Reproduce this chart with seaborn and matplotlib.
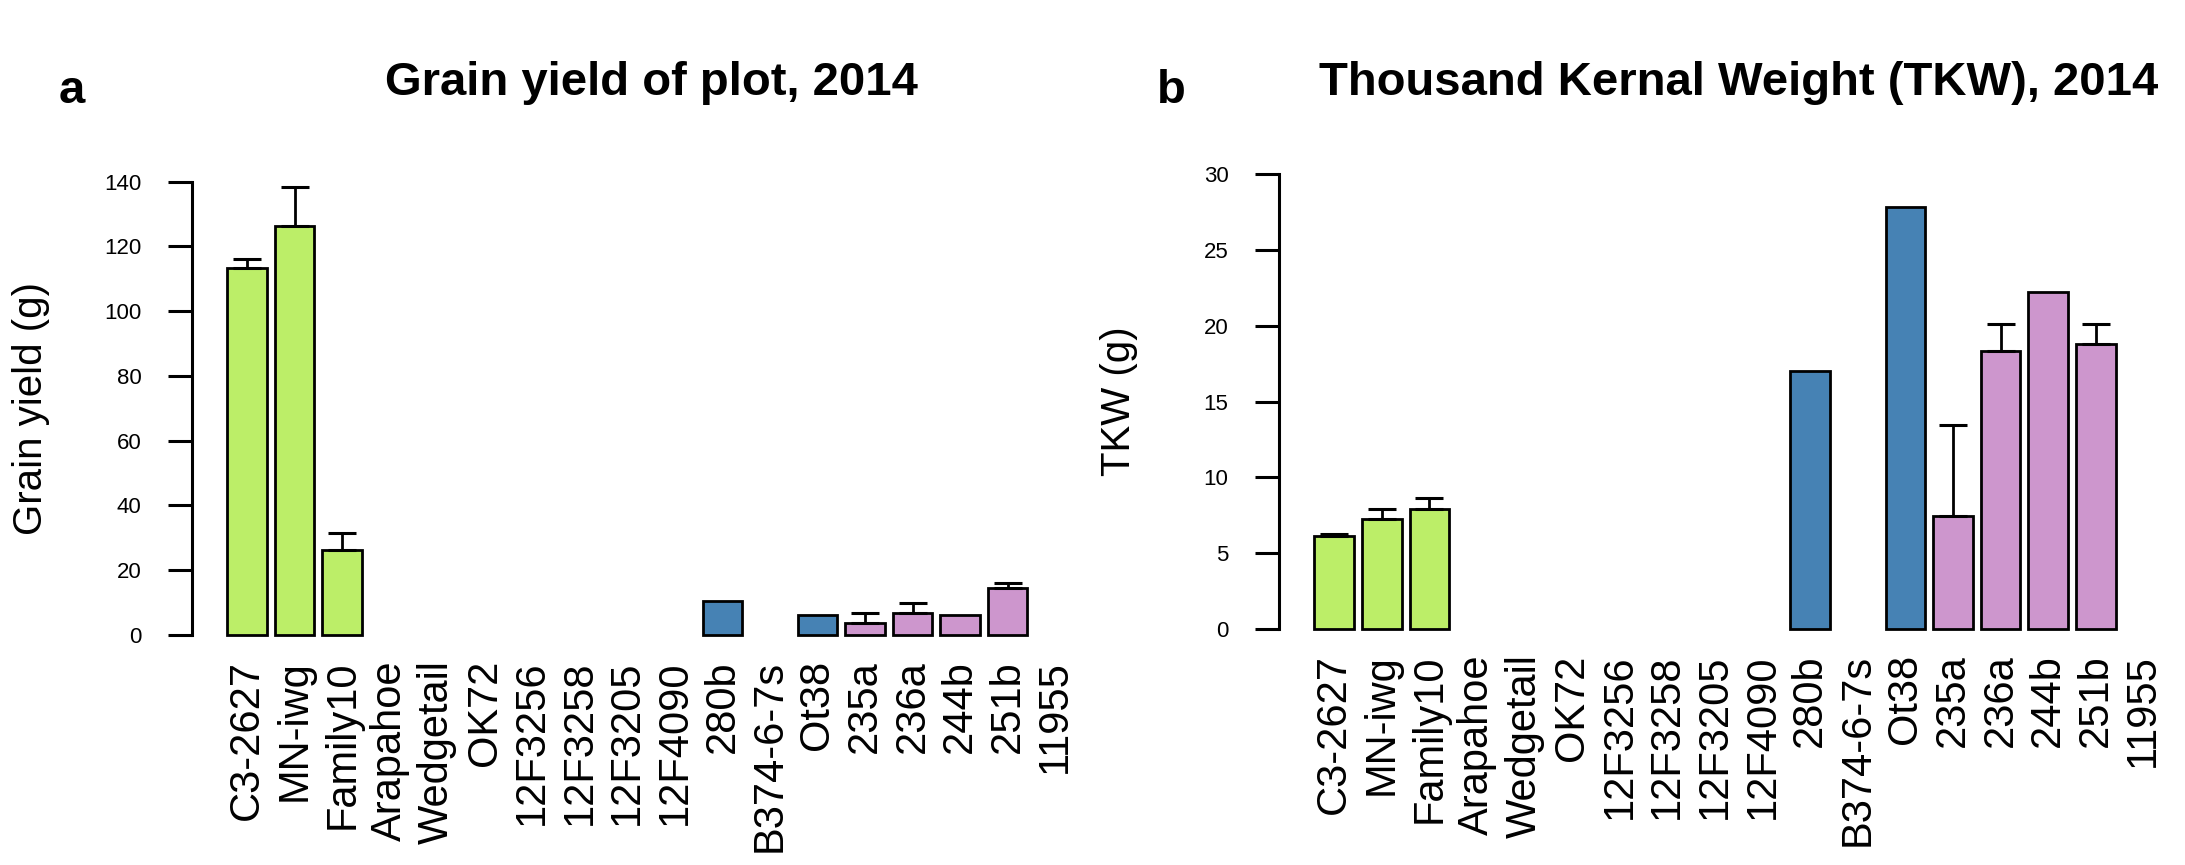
import numpy as np
import pandas as pd
import matplotlib
matplotlib.use("Agg")
import matplotlib.pyplot as plt
import seaborn as sns

cultivars = ["C3-2627", "MN-iwg", "Family10", "Arapahoe", "Wedgetail", "OK72",
             "12F3256", "12F3258", "12F3205", "12F4090", "280b", "B374-6-7s",
             "Ot38", "235a", "236a", "244b", "251b", "11955"]
groups = ["green"] * 10 + ["blue"] * 3 + ["pink"] * 5
group_colors = {"green": "#BCEE68", "blue": "#4682B4", "pink": "#CD96CD"}

nan = np.nan
yield_mean = [113.2, 126.2, 26.3, nan, nan, nan, nan, nan, nan, nan,
              10.6, nan, 6.2, 3.8, 6.9, 6.2, 14.4, nan]
yield_err = [3.0, 12.3, 5.3, nan, nan, nan, nan, nan, nan, nan,
             nan, nan, nan, 3.1, 3.1, nan, 1.8, nan]
tkw_mean = [6.14, 7.28, 7.94, nan, nan, nan, nan, nan, nan, nan,
            17.0, nan, 27.82, 7.46, 18.32, 22.26, 18.83, nan]
tkw_err = [0.13, 0.64, 0.68, nan, nan, nan, nan, nan, nan, nan,
           nan, nan, nan, 6.02, 1.78, nan, 1.27, nan]

df = pd.DataFrame({"cultivar": cultivars, "group": groups,
                   "yield": yield_mean, "yield_err": yield_err,
                   "tkw": tkw_mean, "tkw_err": tkw_err})

sns.set_style("white")
plt.rcParams["font.family"] = ["Liberation Sans", "DejaVu Sans"]
plt.rcParams["text.color"] = "black"
plt.rcParams["axes.labelcolor"] = "black"
plt.rcParams["xtick.color"] = "black"
plt.rcParams["ytick.color"] = "black"

fig = plt.figure(figsize=(21.85, 8.65), dpi=100)
W, H = 2185, 865


def make_axes(left_px, right_px, bottom_px, top_px):
    return fig.add_axes([left_px / W, 1 - bottom_px / H,
                         (right_px - left_px) / W, (bottom_px - top_px) / H])


def panel(ax, col, ecol, ymax, step, title, ylabel, letter, title_y):
    sns.barplot(data=df, x="cultivar", y=col, hue="group", order=cultivars,
                palette=group_colors, dodge=False, width=0.833, legend=False,
                edgecolor="black", linewidth=2, saturation=1, ax=ax)
    pos = np.arange(len(cultivars))
    m = df[ecol].notna().values
    ax.errorbar(pos[m], df[col].values[m],
                yerr=[np.zeros(m.sum()), df[ecol].values[m]],
                fmt="none", ecolor="black", elinewidth=2, capsize=10,
                capthick=2.2, zorder=1)
    ax.set_xlim(-1.17, 18.17)
    ax.set_ylim(-0.04 * ymax, 1.04 * ymax)
    ax.set_yticks(np.arange(0, ymax + 0.1, step))
    for s in ["top", "right", "bottom"]:
        ax.spines[s].set_visible(False)
    ax.spines["left"].set_bounds(0, ymax)
    ax.spines["left"].set_linewidth(2.2)
    ax.spines["left"].set_color("black")
    ax.tick_params(axis="y", length=17.5, width=2.2, pad=18.5, labelsize=16,
                   left=True)
    ax.tick_params(axis="x", length=0, pad=5, labelsize=30, rotation=90)
    for lab in ax.get_xticklabels():
        lab.set_va("top")
    ax.set_xlabel("")
    ax.set_ylabel(ylabel, fontsize=29)
    ax.set_title(title, fontsize=34, fontweight="bold", y=title_y, va="baseline")
    ax.text(letter[1], title_y, letter[0], transform=ax.transAxes,
            fontsize=34, fontweight="bold", va="baseline", ha="left")


ax1 = make_axes(191.5, 1110.7, 653.1, 163.6)
panel(ax1, "yield", "yield_err", 140, 20, "Grain yield of plot, 2014",
      "Grain yield (g)", ("a", -0.145), 1.124)
ax1.yaxis.set_label_coords(-141.0 / 919.2, 0.5)

ax2 = make_axes(1278.5, 2199.0, 647.2, 156.1)
panel(ax2, "tkw", "tkw_err", 30, 5, "Thousand Kernal Weight (TKW), 2014",
      "TKW (g)", ("b", -0.132), 1.108)
ax2.yaxis.set_label_coords(-141.0 / 920.5, 0.5)

fig.savefig("out.png", dpi=100)
